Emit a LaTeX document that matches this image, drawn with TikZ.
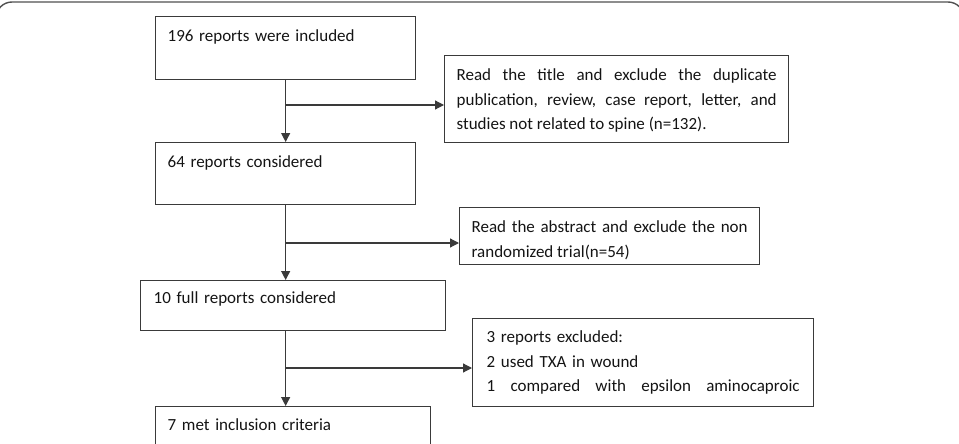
\documentclass[tikz,border=0pt]{standalone}
\usepackage{fontspec}
\setmainfont{Carlito}
\usetikzlibrary{arrows.meta}
\definecolor{linegray}{HTML}{3A3A3A}
\definecolor{framegray}{HTML}{505050}
\definecolor{textgray}{HTML}{141414}
\tikzset{
  box/.style={draw=linegray, line width=1.3pt, anchor=north west, inner xsep=12pt,
    inner ysep=0pt, text height=25pt, align=left, text=textgray,
    font=\fontsize{17}{24.5}\selectfont},
  arr/.style={draw=linegray, line width=1.2pt, -{Triangle[length=9pt,width=9pt]}}
}
\begin{document}
\begin{tikzpicture}[x=1pt,y=-1pt]
\useasboundingbox (0,0) rectangle (959,444);
\clip (0,0) rectangle (959,444);
\draw[framegray, line width=1.4pt, rounded corners=16pt] (-4,2) rectangle (964,480);
\node[box, text width=236pt, text depth=38pt] (incl) at (155,16) {196 reports were included};
\node[box, text width=320pt, text depth=62pt, align=justify] (title) at (444,55)
  {Read the title and exclude the duplicate\linebreak publication, review, case report, letter, and\linebreak studies not related to spine (n=132).};
\node[box, text width=236pt, text depth=37pt] (cons) at (155,142) {64 reports considered};
\node[box, text width=276pt, text depth=32pt, align=justify] (abst) at (459,207)
  {Read the abstract and exclude the non\linebreak randomized trial(n=54)};
\node[box, inner xsep=13pt, text width=279pt, text height=23pt, text depth=27pt] (full) at (140,280) {10 full reports considered};
\node[box, inner xsep=14pt, text width=313pt, text height=24pt, text depth=64pt] (excl) at (472,318)
  {3 reports excluded:\\ 2 used TXA in wound\\ \hbox to 313pt{1\hfill compared\hfill with\hfill epsilon\hfill aminocaproic}};
\node[box, text width=251pt, text height=24pt, text depth=30pt] (met) at (155,406) {7 met inclusion criteria};
% main line and side branches
\coordinate (b1) at (285,105);
\coordinate (b2) at (285,243);
\coordinate (b3) at (285,368);
\draw[arr] (incl.south) -- (cons.north);
\draw[arr] (b1) -- (b1 -| title.west);
\draw[arr] (cons.south) -- (cons.south |- full.north);
\draw[arr] (b2) -- (b2 -| abst.west);
\draw[arr] (cons.south |- full.south) -- (cons.south |- met.north);
\draw[arr] (b3) -- (b3 -| excl.west);
\end{tikzpicture}
\end{document}
